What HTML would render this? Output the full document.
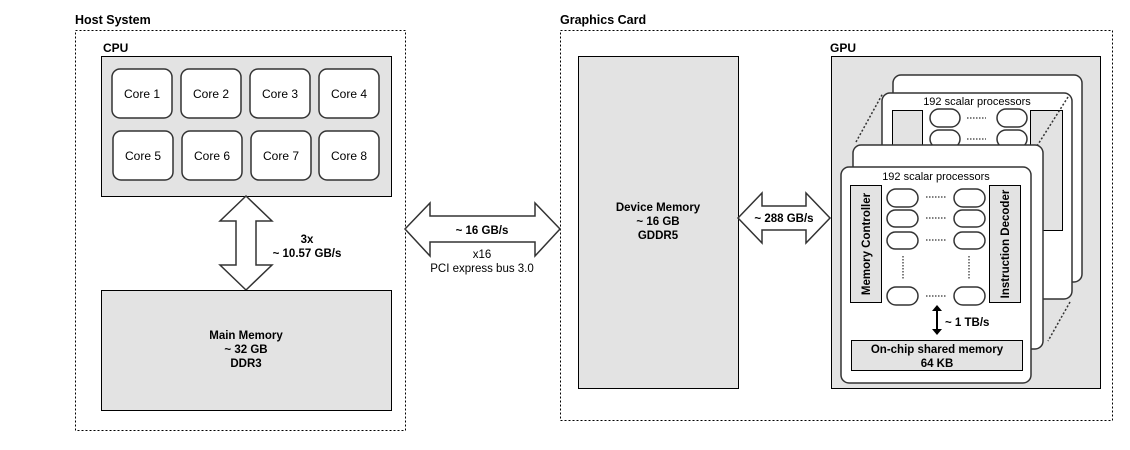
<!DOCTYPE html>
<html><head><style>body{margin:0;background:#fff}svg{display:block}text{font-family:"Liberation Sans",Arial,sans-serif}</style></head><body>
<svg width="1130" height="450" viewBox="0 0 1130 450" xmlns="http://www.w3.org/2000/svg">
<g font-size="12" fill="#000">
<text x="75" y="24" font-weight="bold" font-size="12.5">Host System</text>
<text x="560" y="24" font-weight="bold" font-size="12.5">Graphics Card</text>
</g>
<rect x="75.5" y="30.5" width="330" height="400" fill="none" stroke="#000" stroke-dasharray="2,2"/>
<rect x="560.5" y="30.5" width="552" height="390" fill="none" stroke="#000" stroke-dasharray="2,2"/>
<text x="103" y="52" font-weight="bold" font-size="12">CPU</text>
<rect x="101.5" y="56.5" width="290" height="140" fill="#e3e3e3" stroke="#000"/>
<g fill="#fff" stroke="#333" stroke-width="1.5">
<rect x="112" y="69" width="60" height="49" rx="8"/><rect x="181" y="69" width="60" height="49" rx="8"/><rect x="250" y="69" width="60" height="49" rx="8"/><rect x="319" y="69" width="60" height="49" rx="8"/>
<rect x="113" y="131" width="60" height="49" rx="8"/><rect x="182" y="131" width="60" height="49" rx="8"/><rect x="251" y="131" width="60" height="49" rx="8"/><rect x="319" y="131" width="60" height="49" rx="8"/>
</g>
<g font-size="12" text-anchor="middle">
<text x="142" y="98">Core 1</text><text x="211" y="98">Core 2</text><text x="280" y="98">Core 3</text><text x="349" y="98">Core 4</text>
<text x="143" y="160">Core 5</text><text x="212" y="160">Core 6</text><text x="281" y="160">Core 7</text><text x="349" y="160">Core 8</text>
</g>
<polygon points="246,196 272,221 256,221 256,265 272,265 246,290 220,265 236,265 236,221 220,221" fill="#fff" stroke="#333" stroke-width="1.5"/>
<g font-size="11.5" font-weight="bold" text-anchor="middle"><text x="307" y="243">3x</text><text x="307" y="257">~ 10.57 GB/s</text></g>
<rect x="101.5" y="290.5" width="290" height="120" fill="#e3e3e3" stroke="#000"/>
<g font-size="11.5" font-weight="bold" text-anchor="middle"><text x="246" y="339">Main Memory</text><text x="246" y="353">~ 32 GB</text><text x="246" y="367">DDR3</text></g>
<polygon points="405,229 430,203 430,216 535,216 535,203 560,229 535,256 535,242 430,242 430,256" fill="#fff" stroke="#333" stroke-width="1.5"/>
<g font-size="11.5" text-anchor="middle"><text x="482" y="234" font-weight="bold">~ 16 GB/s</text><text x="482" y="258">x16</text><text x="482" y="272">PCI express bus 3.0</text></g>
<rect x="578.5" y="56.5" width="160" height="332" fill="#e3e3e3" stroke="#000"/>
<g font-size="11.5" font-weight="bold" text-anchor="middle"><text x="658" y="211">Device Memory</text><text x="658" y="225">~ 16 GB</text><text x="658" y="239">GDDR5</text></g>
<polygon points="738,218 762,193 762,206 806,206 806,193 830,218 806,243 806,230 762,230 762,243" fill="#fff" stroke="#333" stroke-width="1.5"/>
<text x="784" y="222" font-size="11.5" font-weight="bold" text-anchor="middle">~ 288 GB/s</text>
<text x="830" y="52" font-weight="bold" font-size="12">GPU</text>
<rect x="831.5" y="56.5" width="269" height="332" fill="#e3e3e3" stroke="#000"/>
<g stroke="#333" stroke-width="1.5" stroke-dasharray="2,2" fill="none">
<line x1="856" y1="142" x2="883" y2="93"/><line x1="1070" y1="302" x2="1048" y2="341"/>
</g>
<rect x="893" y="75" width="189" height="207" rx="8" fill="#fff" stroke="#333" stroke-width="1.5"/>
<rect x="882" y="93" width="190" height="206" rx="8" fill="#fff" stroke="#333" stroke-width="1.5"/>
<text x="977" y="105" font-size="11" text-anchor="middle">192 scalar processors</text>
<rect x="892.5" y="110.5" width="30" height="120" fill="#e3e3e3" stroke="#000"/>
<rect x="1030.5" y="110.5" width="32" height="120" fill="#e3e3e3" stroke="#000"/>
<g fill="#fff" stroke="#333" stroke-width="1.5">
<rect x="930" y="109" width="30" height="18" rx="9"/><rect x="997" y="109" width="30" height="18" rx="9"/>
<rect x="930" y="130" width="30" height="18" rx="9"/><rect x="997" y="130" width="30" height="18" rx="9"/>
</g>
<g stroke="#555" stroke-width="1.5" stroke-dasharray="1.5,1.5"><line x1="967" y1="118" x2="986" y2="118"/><line x1="967" y1="139" x2="986" y2="139"/></g>
<line x1="1068" y1="97" x2="1037" y2="146" stroke="#333" stroke-width="1.5" stroke-dasharray="2,2"/>
<rect x="853" y="145" width="190" height="204" rx="8" fill="#fff" stroke="#333" stroke-width="1.5"/>
<rect x="841" y="167" width="190" height="216" rx="8" fill="#fff" stroke="#333" stroke-width="1.5"/>
<text x="936" y="180" font-size="11" text-anchor="middle">192 scalar processors</text>
<rect x="850.5" y="185.5" width="31" height="117" fill="#e3e3e3" stroke="#000"/>
<rect x="989.5" y="185.5" width="31" height="117" fill="#e3e3e3" stroke="#000"/>
<text transform="translate(870,244) rotate(-90)" font-size="11.5" font-weight="bold" text-anchor="middle">Memory Controller</text>
<text transform="translate(1009,244) rotate(-90)" font-size="11.5" font-weight="bold" text-anchor="middle">Instruction Decoder</text>
<g fill="#fff" stroke="#333" stroke-width="1.5">
<rect x="887" y="189" width="31" height="18" rx="9"/><rect x="954" y="189" width="31" height="18" rx="9"/>
<rect x="887" y="210" width="31" height="17" rx="8.5"/><rect x="954" y="210" width="31" height="17" rx="8.5"/>
<rect x="887" y="232" width="31" height="17" rx="8.5"/><rect x="954" y="232" width="31" height="17" rx="8.5"/>
<rect x="887" y="287" width="31" height="18" rx="9"/><rect x="954" y="287" width="31" height="18" rx="9"/>
</g>
<g stroke="#555" stroke-width="1.5" stroke-dasharray="1.5,1.5">
<line x1="926" y1="197" x2="946" y2="197"/><line x1="926" y1="218" x2="946" y2="218"/><line x1="926" y1="240" x2="946" y2="240"/><line x1="926" y1="296" x2="946" y2="296"/>
<line x1="903" y1="256" x2="903" y2="280"/><line x1="969" y1="256" x2="969" y2="280"/>
</g>
<line x1="937" y1="309" x2="937" y2="331" stroke="#000" stroke-width="2"/>
<polygon points="937,305 932,311 942,311" fill="#000"/><polygon points="937,335 932,329 942,329" fill="#000"/>
<text x="945" y="326" font-size="11.5" font-weight="bold">~ 1 TB/s</text>
<rect x="851.5" y="340.5" width="171" height="30" fill="#e3e3e3" stroke="#000"/>
<g font-size="11.5" font-weight="bold" text-anchor="middle"><text x="937" y="353">On-chip shared memory</text><text x="937" y="367">64 KB</text></g>
</svg>
</body></html>
